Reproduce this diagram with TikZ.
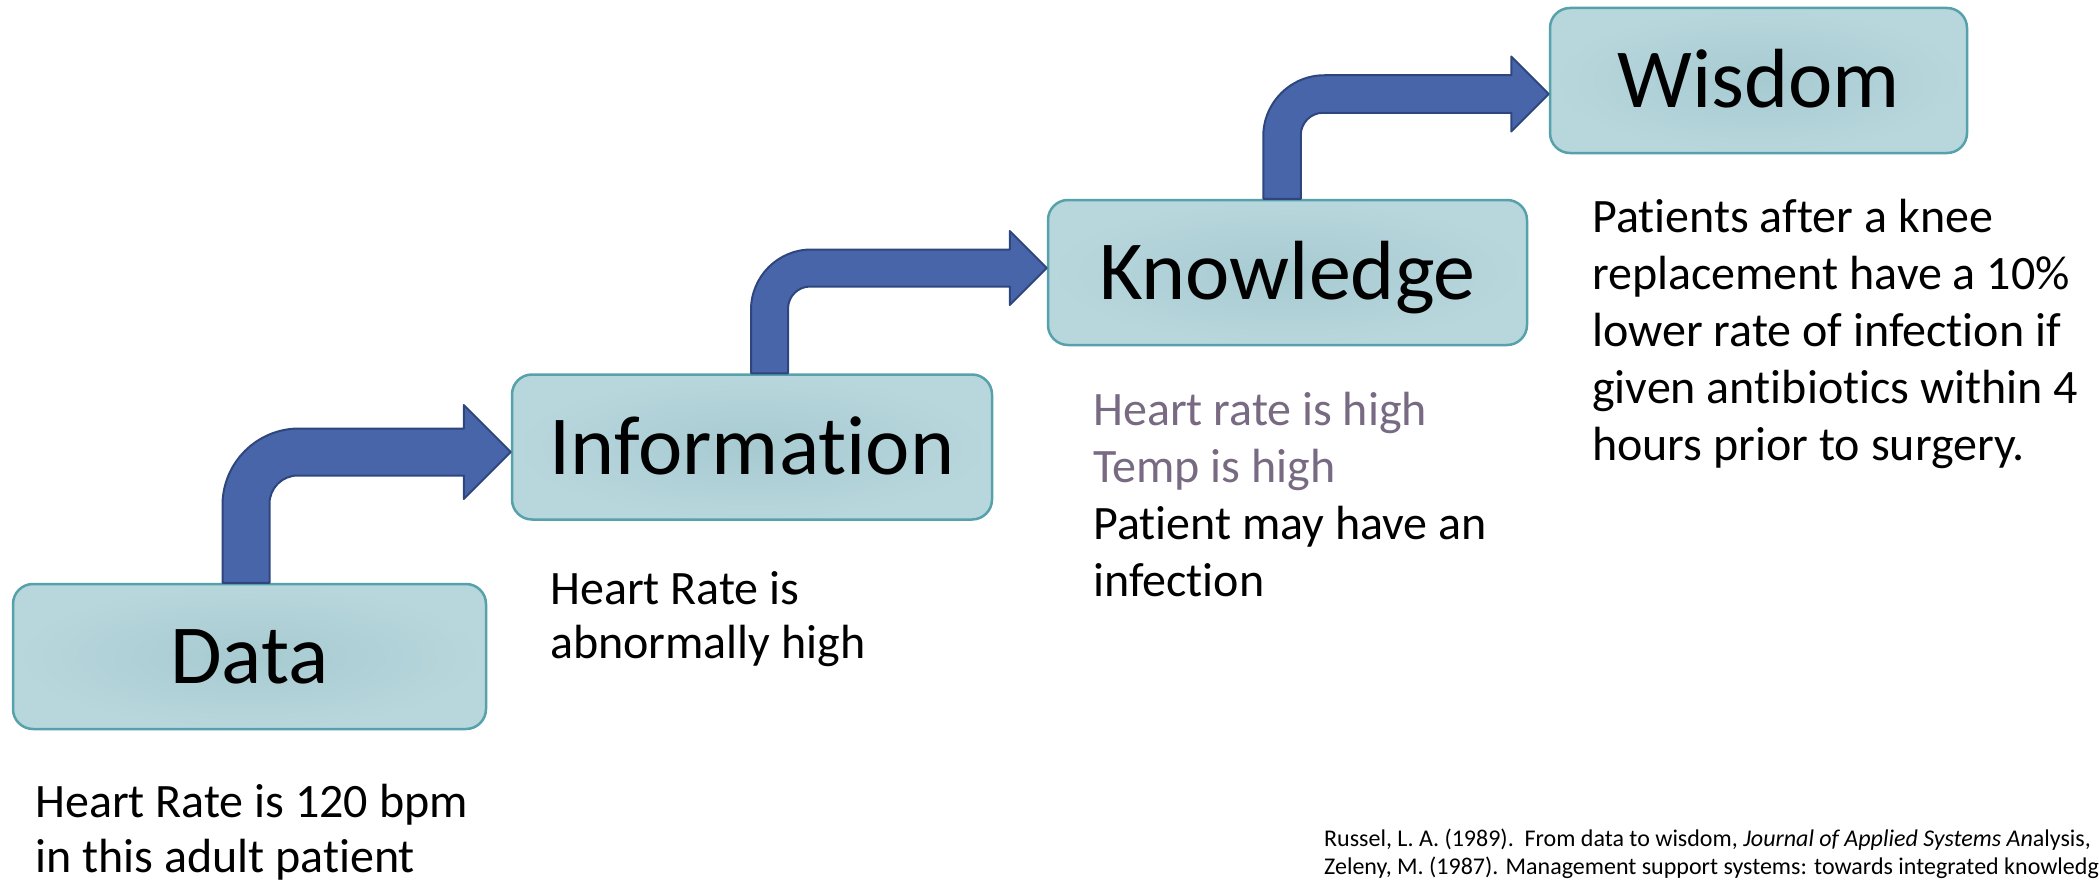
\documentclass[tikz,border=0pt]{standalone}
\usepackage{fontspec}
\setmainfont{Carlito}[Ligatures={NoCommon}]
\usetikzlibrary{calc}

\definecolor{boxmid}{RGB}{167,202,209}
\definecolor{boxrim}{RGB}{184,215,221}
\definecolor{boxline}{RGB}{86,161,171}
\definecolor{arrowfill}{RGB}{72,101,170}
\definecolor{arrowline}{RGB}{46,70,126}
\definecolor{softgray}{RGB}{120,106,130}

\tikzset{
  tier/.style={shape=rectangle, rounded corners=20pt, draw=boxline, line width=2.5pt,
    shading=radial, inner color=boxmid, outer color=boxrim, minimum height=145pt,
    text height=54pt, text depth=0pt, font=\fontsize{84}{100}\selectfont},
  remark/.style={anchor=base west, align=left, inner sep=0pt},
  stair/.style={fill=arrowfill, draw=arrowline, line width=2pt, line join=round},
}

% bent block arrow: from node, to node, shaft shift, width, tip shift
\newcommand{\stairArrow}[5]{%
  \draw[stair] let \p1 = ($(#1.north)+(#3,0)$), \p2 = ($(#2.west)+(0,#5)$),
    \n1 = {#4/2}, \n2 = {1.63*#4}, \n3 = {0.6*#4} in
    (\x1-\n1,\y1) -- (\x1-\n1,\y2+\n1-\n2)
    arc[start angle=180, end angle=90, radius=\n2]
    -- (\x2-#4,\y2+\n1) -- (\x2-#4,\y2+#4) -- (\x2,\y2)
    -- (\x2-#4,\y2-#4) -- (\x2-#4,\y2-\n1) -- (\x1+\n1+\n3,\y2-\n1)
    arc[start angle=90, end angle=180, radius=\n3]
    -- (\x1+\n1,\y1) -- cycle;
}

\begin{document}
\begin{tikzpicture}[x=1pt, y=1pt]
\useasboundingbox (0,0) rectangle (2099,-883);
\clip (0,0) rectangle (2099,-883);

\node[tier, minimum width=473pt] (data) at (249.5,-656.5) {Data};
\node[tier, minimum width=480pt] (info) at (752,-447) {Information};
\node[tier, minimum width=479pt] (know) at (1287.5,-272.5) {Knowledge};
\node[tier, minimum width=417pt] (wisdom) at (1758.5,-80.5) {Wisdom};

\stairArrow{data}{info}{-3.5}{47}{-5}
\stairArrow{info}{know}{17.5}{37}{4.5}
\stairArrow{know}{wisdom}{-5.5}{37.5}{-13.5}

% notes sit on the baseline of their last line
\node[remark, font=\fontsize{48}{55}\selectfont] (datanote) at (35,-872)
  {Heart Rate is 120 bpm\\in this adult patient};
\node[remark, font=\fontsize{48}{54}\selectfont] (infonote) at (550,-658)
  {Heart Rate is\\abnormally high};
\node[remark, font=\fontsize{48}{57}\selectfont] (knownote) at (1093,-596)
  {\textcolor{softgray}{Heart rate is high}\\\textcolor{softgray}{Temp is high}\\Patient may have an\\infection};
\node[remark, font=\fontsize{48}{57}\selectfont] (wisdomnote) at (1592,-460)
  {Patients after a knee\\replacement have a 10\%\\lower rate of infection if\\given antibiotics within 4\\hours prior to surgery.};
\node[remark, font=\fontsize{24}{28}\selectfont] (sources) at (1324,-874)
  {Russel, L. A. (1989).\ \ From data to wisdom, \textit{Journal of Applied Systems An}alysis,\\Zeleny, M. (1987). Management support systems: towards integrated knowledge};
\end{tikzpicture}
\end{document}
